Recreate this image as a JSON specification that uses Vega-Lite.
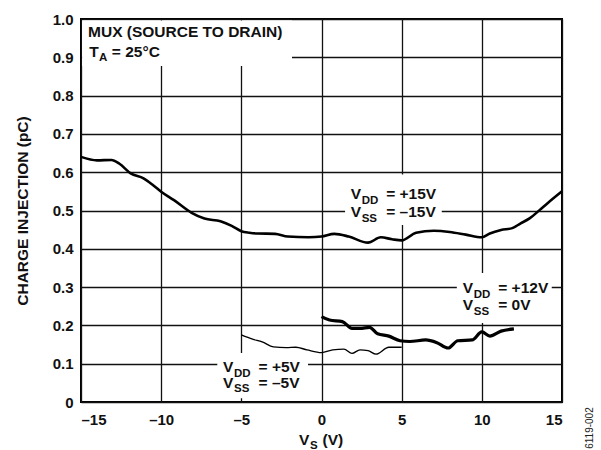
{
  "$schema": "https://vega.github.io/schema/vega-lite/v6.json",
  "width": 481,
  "height": 383,
  "autosize": {"type": "none"},
  "padding": {"left": 81, "top": 19, "right": 39, "bottom": 48},
  "background": "white",
  "config": {
    "view": {"stroke": "black", "strokeWidth": 2},
    "font": "Liberation Sans"
  },
  "datasets": {
    "curves": [
      {"s": "15", "x": -15, "y": 0.640}, {"s": "15", "x": -14, "y": 0.631}, {"s": "15", "x": -13.1, "y": 0.632}, {"s": "15", "x": -12.6, "y": 0.622}, {"s": "15", "x": -11.9, "y": 0.597}, {"s": "15", "x": -11.1, "y": 0.584}, {"s": "15", "x": -10.5, "y": 0.566}, {"s": "15", "x": -10, "y": 0.549}, {"s": "15", "x": -9.2, "y": 0.527}, {"s": "15", "x": -8.1, "y": 0.494}, {"s": "15", "x": -7.3, "y": 0.479}, {"s": "15", "x": -6.3, "y": 0.472}, {"s": "15", "x": -5.6, "y": 0.460}, {"s": "15", "x": -5.0, "y": 0.446}, {"s": "15", "x": -4.5, "y": 0.442}, {"s": "15", "x": -4.0, "y": 0.440}, {"s": "15", "x": -2.9, "y": 0.439}, {"s": "15", "x": -2.1, "y": 0.432}, {"s": "15", "x": -0.8, "y": 0.430}, {"s": "15", "x": 0, "y": 0.432}, {"s": "15", "x": 0.8, "y": 0.439}, {"s": "15", "x": 1.7, "y": 0.432}, {"s": "15", "x": 2.9, "y": 0.416}, {"s": "15", "x": 3.7, "y": 0.430}, {"s": "15", "x": 4.4, "y": 0.425}, {"s": "15", "x": 5.0, "y": 0.422}, {"s": "15", "x": 5.9, "y": 0.442}, {"s": "15", "x": 7.0, "y": 0.447}, {"s": "15", "x": 8.0, "y": 0.444}, {"s": "15", "x": 9.0, "y": 0.437}, {"s": "15", "x": 10.0, "y": 0.430}, {"s": "15", "x": 10.5, "y": 0.440}, {"s": "15", "x": 11.2, "y": 0.449}, {"s": "15", "x": 11.9, "y": 0.454}, {"s": "15", "x": 12.4, "y": 0.466}, {"s": "15", "x": 13.0, "y": 0.480}, {"s": "15", "x": 13.6, "y": 0.501}, {"s": "15", "x": 14.1, "y": 0.519}, {"s": "15", "x": 15.0, "y": 0.550},
      {"s": "12", "x": 0, "y": 0.223}, {"s": "12", "x": 0.5, "y": 0.214}, {"s": "12", "x": 1.3, "y": 0.210}, {"s": "12", "x": 1.9, "y": 0.192}, {"s": "12", "x": 2.4, "y": 0.192}, {"s": "12", "x": 3.0, "y": 0.195}, {"s": "12", "x": 3.5, "y": 0.178}, {"s": "12", "x": 4.2, "y": 0.172}, {"s": "12", "x": 4.9, "y": 0.160}, {"s": "12", "x": 5.5, "y": 0.158}, {"s": "12", "x": 6.5, "y": 0.162}, {"s": "12", "x": 7.2, "y": 0.155}, {"s": "12", "x": 7.9, "y": 0.141}, {"s": "12", "x": 8.5, "y": 0.160}, {"s": "12", "x": 9.4, "y": 0.162}, {"s": "12", "x": 10.0, "y": 0.183}, {"s": "12", "x": 10.5, "y": 0.172}, {"s": "12", "x": 11.2, "y": 0.185}, {"s": "12", "x": 12.0, "y": 0.191},
      {"s": "5", "x": -5, "y": 0.175}, {"s": "5", "x": -4.3, "y": 0.164}, {"s": "5", "x": -3.7, "y": 0.157}, {"s": "5", "x": -3.0, "y": 0.144}, {"s": "5", "x": -2.2, "y": 0.142}, {"s": "5", "x": -1.6, "y": 0.143}, {"s": "5", "x": -0.9, "y": 0.136}, {"s": "5", "x": 0, "y": 0.129}, {"s": "5", "x": 0.7, "y": 0.136}, {"s": "5", "x": 1.4, "y": 0.138}, {"s": "5", "x": 1.9, "y": 0.127}, {"s": "5", "x": 2.4, "y": 0.136}, {"s": "5", "x": 2.9, "y": 0.134}, {"s": "5", "x": 3.4, "y": 0.125}, {"s": "5", "x": 4.2, "y": 0.143}, {"s": "5", "x": 5.0, "y": 0.143}
    ],
    "boxes": [
      {"x": -14.93, "x2": -1.84, "y": 0.877, "y2": 0.996},
      {"x": 1.47, "x2": 7.5, "y": 0.462, "y2": 0.594},
      {"x": 8.44, "x2": 14.36, "y": 0.206, "y2": 0.337},
      {"x": -6.5, "x2": -0.84, "y": 0.01, "y2": 0.128}
    ],
    "texts": [
      {"role": "main", "text": "MUX (SOURCE TO DRAIN)", "x": -14.56, "y": 0.952},
      {"role": "main", "text": "T", "x": -14.48, "y": 0.901},
      {"role": "tsub", "text": "A", "x": -14.48, "y": 0.901},
      {"role": "trest", "text": "= 25°C", "x": -14.48, "y": 0.901},
      {"role": "main", "text": "V", "x": 1.82, "y": 0.530},
      {"role": "sub", "text": "DD", "x": 1.82, "y": 0.530},
      {"role": "rest", "text": "= +15V", "x": 1.82, "y": 0.530},
      {"role": "main", "text": "V", "x": 1.82, "y": 0.483},
      {"role": "sub", "text": "SS", "x": 1.82, "y": 0.483},
      {"role": "rest", "text": "= –15V", "x": 1.82, "y": 0.483},
      {"role": "main", "text": "V", "x": 8.81, "y": 0.284},
      {"role": "sub", "text": "DD", "x": 8.81, "y": 0.284},
      {"role": "rest", "text": "= +12V", "x": 8.81, "y": 0.284},
      {"role": "main", "text": "V", "x": 8.81, "y": 0.240},
      {"role": "sub", "text": "SS", "x": 8.81, "y": 0.240},
      {"role": "rest", "text": "= 0V", "x": 8.81, "y": 0.240},
      {"role": "main", "text": "V", "x": -6.14, "y": 0.078},
      {"role": "sub", "text": "DD", "x": -6.14, "y": 0.078},
      {"role": "rest", "text": "= +5V", "x": -6.14, "y": 0.078},
      {"role": "main", "text": "V", "x": -6.14, "y": 0.037},
      {"role": "sub", "text": "SS", "x": -6.14, "y": 0.037},
      {"role": "rest", "text": "= –5V", "x": -6.14, "y": 0.037},
      {"role": "main", "text": "V", "x": -1.40, "y": -0.112},
      {"role": "sub", "text": "S", "x": -1.40, "y": -0.112},
      {"role": "xrest", "text": "(V)", "x": -1.40, "y": -0.112}
    ],
    "code": [{"text": "6119-002", "x": 16.75, "y": -0.068}]
  },
  "encoding": {
    "x": {"field": "x", "type": "quantitative", "scale": {"domain": [-15, 15], "nice": false, "zero": false},
      "axis": {"values": [-15, -10, -5, 0, 5, 10, 15], "grid": true, "gridColor": "#111", "gridWidth": 1.3, "ticks": false, "domain": false, "zindex": 0,
        "labelFont": "Liberation Sans", "labelFontWeight": "bold", "labelFontSize": 15, "labelColor": "#111", "labelPadding": 10,
        "labelExpr": "datum.value < 0 ? '–' + format(-datum.value, 'd') : format(datum.value, 'd')", "title": null}},
    "y": {"field": "y", "type": "quantitative", "scale": {"domain": [0, 1], "nice": false},
      "axis": {"values": [0, 0.1, 0.2, 0.3, 0.4, 0.5, 0.6, 0.7, 0.8, 0.9, 1.0], "grid": true, "gridColor": "#111", "gridWidth": 1.3, "ticks": false, "domain": false, "zindex": 0,
        "labelFont": "Liberation Sans", "labelFontWeight": "bold", "labelFontSize": 15, "labelColor": "#111", "labelPadding": 8,
        "labelExpr": "datum.value == 0 ? '0' : format(datum.value, '.1f')",
        "title": "CHARGE INJECTION (pC)", "titleFont": "Liberation Sans", "titleFontWeight": "bold", "titleFontSize": 15.5, "titleColor": "#111",
        "titleX": -59, "titleY": 191.5, "titleAngle": 270, "titleAlign": "center", "titleBaseline": "middle"}}
  },
  "layer": [
    {"data": {"name": "boxes"}, "mark": {"type": "rect", "fill": "white", "stroke": null}, "encoding": {"x2": {"field": "x2"}, "y2": {"field": "y2"}}},
    {"data": {"name": "curves"}, "transform": [{"filter": "datum.s == '15'"}], "mark": {"type": "line", "color": "black", "strokeWidth": 2.6, "interpolate": "monotone"}, "encoding": {}},
    {"data": {"name": "curves"}, "transform": [{"filter": "datum.s == '12'"}], "mark": {"type": "line", "color": "black", "strokeWidth": 3.2, "interpolate": "monotone"}, "encoding": {}},
    {"data": {"name": "curves"}, "transform": [{"filter": "datum.s == '5'"}], "mark": {"type": "line", "color": "black", "strokeWidth": 1.4, "interpolate": "monotone"}, "encoding": {}},
    {"data": {"name": "texts"}, "transform": [{"filter": "datum.role == 'main'"}], "mark": {"type": "text", "align": "left", "baseline": "alphabetic", "font": "Liberation Sans", "fontWeight": "bold", "fontSize": 15.5, "color": "#111", "clip": false}, "encoding": {"text": {"field": "text"}}},
    {"data": {"name": "texts"}, "transform": [{"filter": "datum.role == 'sub'"}], "mark": {"type": "text", "align": "left", "baseline": "alphabetic", "dx": 11, "dy": 4.5, "font": "Liberation Sans", "fontWeight": "bold", "fontSize": 11.5, "color": "#111", "clip": false}, "encoding": {"text": {"field": "text"}}},
    {"data": {"name": "texts"}, "transform": [{"filter": "datum.role == 'rest'"}], "mark": {"type": "text", "align": "left", "baseline": "alphabetic", "dx": 35.5, "font": "Liberation Sans", "fontWeight": "bold", "fontSize": 15.5, "color": "#111", "clip": false}, "encoding": {"text": {"field": "text"}}},
    {"data": {"name": "texts"}, "transform": [{"filter": "datum.role == 'tsub'"}], "mark": {"type": "text", "align": "left", "baseline": "alphabetic", "dx": 9.7, "dy": 4.5, "font": "Liberation Sans", "fontWeight": "bold", "fontSize": 11.5, "color": "#111", "clip": false}, "encoding": {"text": {"field": "text"}}},
    {"data": {"name": "texts"}, "transform": [{"filter": "datum.role == 'trest'"}], "mark": {"type": "text", "align": "left", "baseline": "alphabetic", "dx": 22.5, "font": "Liberation Sans", "fontWeight": "bold", "fontSize": 15.5, "color": "#111", "clip": false}, "encoding": {"text": {"field": "text"}}},
    {"data": {"name": "texts"}, "transform": [{"filter": "datum.role == 'xrest'"}], "mark": {"type": "text", "align": "left", "baseline": "alphabetic", "dx": 23.5, "font": "Liberation Sans", "fontWeight": "bold", "fontSize": 15.5, "color": "#111", "clip": false}, "encoding": {"text": {"field": "text"}}},
    {"data": {"name": "code"}, "mark": {"type": "text", "align": "center", "baseline": "middle", "angle": 270, "font": "Liberation Sans", "fontSize": 10, "color": "#222", "clip": false}, "encoding": {"text": {"field": "text"}}}
  ]
}
